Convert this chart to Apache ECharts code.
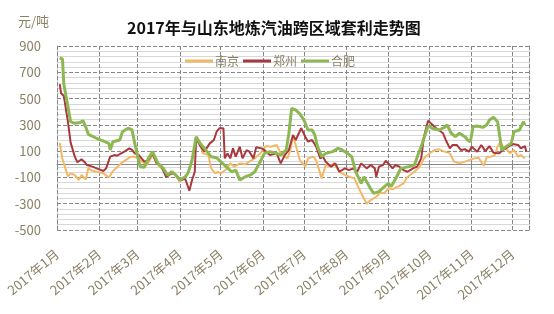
<!DOCTYPE html>
<html><head><meta charset="utf-8">
<script src="https://cdn.jsdelivr.net/npm/echarts@6/dist/echarts.min.js"></script>
<style>html,body{margin:0;padding:0;background:#fff}#c{width:554px;height:314px}</style>
</head><body><div id="c"></div>
<script>
var titleText = '2017年与山东地炼汽油跨区域套利走势图';
var unitText = '元/吨';
var seriesNames = ['南京', '郑州', '合肥'];
var yTicks = [-500, -300, -100, 100, 300, 500, 700, 900];

var njDates = ['1-3','1-5','1-9','1-11','1-14','1-17','1-19','1-22','1-24','1-26','1-30','2-4','2-8','2-11','2-17','2-24','2-27','3-3','3-8','3-12','3-16','3-20','3-23','3-27','4-1','4-5','4-8','4-11','4-13','4-16','4-18','4-22','4-24','4-27','4-29','5-1','5-5','5-8','5-11','5-15','5-19','5-22','5-26','5-30','6-3','6-7','6-11','6-14','6-19','6-21','6-23','6-25','6-28','7-2','7-4','7-8','7-10','7-14','7-17','7-20','7-23','7-27','7-31','8-3','8-7','8-12','8-16','8-19','8-23','8-26','8-29','9-1','9-4','9-8','9-12','9-15','9-20','9-24','9-27','10-1','10-5','10-8','10-12','10-16','10-19','10-23','10-27','10-30','11-3','11-6','11-10','11-12','11-15','11-18','11-20','11-22','11-24','11-27','11-29','12-2','12-5','12-7','12-10'];
var njValues = [164,40,-92,-69,-81,-120,-81,-117,-28,-45,-57,-69,-100,-52,7,58,58,32,-6,70,-6,-44,-95,-57,-133,-95,-44,83,185,159,83,70,-31,-69,-57,-69,-40,7,-18,7,0,20,45,83,139,134,147,83,45,109,210,147,32,-18,45,58,30,-107,-6,-15,7,-57,-81,-95,-107,-221,-300,-272,-247,-215,-220,-183,-190,-170,-145,-95,-57,-18,45,83,109,114,96,83,20,7,20,32,45,50,-13,55,58,70,134,172,134,110,83,109,58,70,45];

var zzDates = ['1-3','1-4','1-6','1-9','1-11','1-14','1-16','1-19','1-21','1-23','1-27','1-31','2-4','2-6','2-9','2-12','2-14','2-17','2-20','2-23','2-25','2-27','3-2','3-6','3-9','3-12','3-15','3-18','3-22','3-26','3-29','4-2','4-5','4-8','4-10','4-12','4-13','4-16','4-19','4-23','4-26','4-28','4-30','5-3','5-4','5-6','5-8','5-10','5-12','5-15','5-17','5-20','5-22','5-25','5-27','5-31','6-2','6-6','6-11','6-14','6-17','6-20','6-23','6-25','6-29','7-2','7-4','7-7','7-10','7-13','7-15','7-17','7-21','7-24','7-27','7-31','8-3','8-6','8-9','8-12','8-16','8-19','8-22','8-23','8-25','8-28','8-30','9-2','9-4','9-6','9-9','9-12','9-15','9-19','9-22','9-25','9-27','9-30','10-2','10-6','10-11','10-13','10-16','10-18','10-21','10-24','10-27','10-30','11-1','11-5','11-8','11-11','11-14','11-17','11-21','11-24','12-1','12-5','12-7','12-10','12-11'];
var zzValues = [610,540,520,324,165,60,15,38,20,-6,-18,-35,-51,-31,58,70,65,83,100,121,109,83,70,20,32,83,7,-6,-95,-69,-81,-120,-110,-201,-120,-57,198,139,96,159,185,248,274,274,45,83,45,121,58,134,45,108,96,45,129,121,109,70,83,7,70,109,223,185,274,210,172,185,134,45,58,20,-18,7,-57,-31,-44,-31,-57,7,-31,-6,-31,-95,-18,-6,27,-6,-31,-6,-18,-44,-57,-31,-18,45,210,332,312,274,236,185,121,147,147,109,115,96,134,96,147,100,139,88,83,110,154,147,121,139,96];

var hfDates = ['1-3','1-5','1-6','1-7','1-9','1-11','1-14','1-18','1-20','1-22','1-24','1-30','2-5','2-8','2-9','2-11','2-16','2-18','2-22','2-23','2-25','2-27','3-1','3-3','3-6','3-9','3-12','3-16','3-20','3-23','3-26','3-29','4-1','4-5','4-7','4-10','4-13','4-16','4-18','4-21','4-24','4-28','5-1','5-5','5-9','5-12','5-15','5-19','5-23','5-26','5-30','6-2','6-6','6-11','6-14','6-18','6-20','6-22','6-25','6-28','7-1','7-4','7-7','7-9','7-11','7-14','7-17','7-22','7-26','7-29','8-2','8-5','8-8','8-12','8-14','8-18','8-21','8-25','8-29','9-1','9-3','9-7','9-10','9-16','9-20','9-23','9-25','9-27','9-30','10-3','10-8','10-12','10-14','10-17','10-20','10-23','10-27','10-29','10-31','11-2','11-5','11-9','11-12','11-14','11-17','11-20','11-23','11-26','11-30','12-2','12-6','12-9','12-10'];
var hfValues = [810,800,610,600,440,324,312,318,332,286,228,198,172,159,109,172,185,248,275,281,261,159,70,-18,-23,45,96,7,-31,-81,-57,-81,-120,-95,-69,32,210,159,134,96,58,50,20,-18,-57,-44,-120,-95,-81,-57,20,83,96,83,70,109,236,426,413,383,337,261,261,223,134,58,83,96,121,109,83,58,-57,-145,-95,-170,-221,-208,-170,-145,-170,-95,-31,-18,-6,83,134,198,291,274,261,281,299,236,210,236,210,185,172,286,291,281,299,337,357,324,109,134,159,248,261,324,299];

function pairs(dates, values) {
  return dates.map(function (d, i) {
    var p = d.split('-');
    return [new Date(2017, +p[0] - 1, +p[1]).getTime(), values[i]];
  });
}

var labelColor = '#8a8066';
var font = '"Microsoft YaHei","Noto Sans CJK SC",sans-serif';
var chart = echarts.init(document.getElementById('c'), null, {renderer: 'canvas'});
chart.setOption({
  animation: false,
  title: {text: titleText, left: 122, top: 15, textStyle: {fontSize: 16, fontWeight: 'bold', color: '#111', fontFamily: font}},
  graphic: [{type: 'text', left: 18, top: 15, style: {text: unitText, fill: labelColor, font: '13px ' + font}}],
  legend: {
    data: seriesNames, left: 180, top: 50, itemWidth: 28, itemHeight: 3, itemGap: 4, icon: 'rect',
    textStyle: {color: labelColor, fontSize: 12, fontFamily: font, padding: [0, 0, 0, -3]}
  },
  grid: {left: 57, right: 25, top: 46, bottom: 84, containLabel: false},
  xAxis: {
    type: 'time', min: new Date(2017, 0, 1).getTime(), max: new Date(2017, 11, 13).getTime(),
    minInterval: 28 * 86400000, maxInterval: 31 * 86400000,
    axisLine: {lineStyle: {color: '#888', width: 1}},
    axisTick: {show: true, length: 5, lineStyle: {color: '#888'}},
    splitLine: {show: true, lineStyle: {type: 'dashed', color: '#888', width: 1}},
    axisLabel: {
      rotate: 40, margin: 22, color: labelColor, fontSize: 13, fontFamily: font, showMaxLabel: false,
      formatter: function (v) { var d = new Date(v); return d.getFullYear() + '年' + (d.getMonth() + 1) + '月'; }
    }
  },
  yAxis: [{
    type: 'value', min: yTicks[0], max: yTicks[yTicks.length - 1], interval: 200,
    axisLine: {show: true, lineStyle: {type: 'dashed', color: '#888'}},
    axisTick: {show: false},
    axisLabel: {color: labelColor, fontSize: 13, fontFamily: font, margin: 16},
    splitLine: {show: true, lineStyle: {type: 'dashed', color: '#888'}},
    minorTick: {show: false, splitNumber: 5},
    minorSplitLine: {show: true, lineStyle: {color: '#d8d8d8', width: 1}}
  }, {
    type: 'value', position: 'right', min: yTicks[0], max: yTicks[yTicks.length - 1], interval: 200,
    axisLine: {show: true, lineStyle: {type: 'dashed', color: '#888'}},
    axisTick: {show: false}, axisLabel: {show: false}, splitLine: {show: false}
  }],
  series: [
    {name: seriesNames[0], type: 'line', showSymbol: false, symbol: 'none', data: pairs(njDates, njValues),
     lineStyle: {color: '#f2b866', width: 2}, itemStyle: {color: '#f2b866'}},
    {name: seriesNames[1], type: 'line', showSymbol: false, symbol: 'none', data: pairs(zzDates, zzValues),
     lineStyle: {color: '#a8383c', width: 2}, itemStyle: {color: '#a8383c'}},
    {name: seriesNames[2], type: 'line', showSymbol: false, symbol: 'none', data: pairs(hfDates, hfValues),
     lineStyle: {color: '#8cb752', width: 3}, itemStyle: {color: '#8cb752'}}
  ]
});
</script></body></html>
